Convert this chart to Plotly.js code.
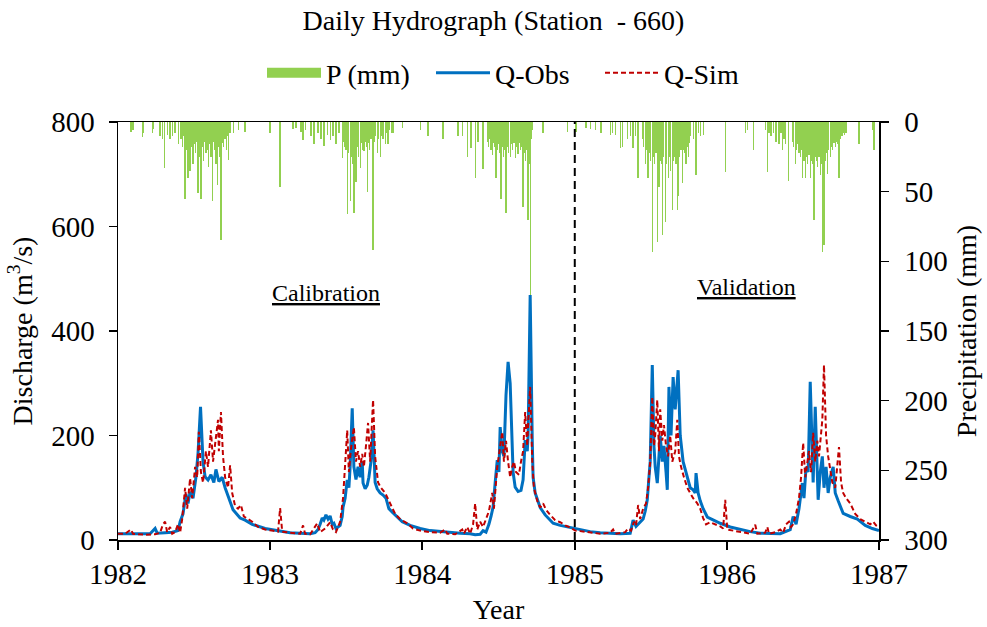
<!DOCTYPE html>
<html><head><meta charset="utf-8">
<script src="https://cdn.plot.ly/plotly-3.0.1.min.js"></script>
<style>body{margin:0;background:#fff}</style></head>
<body><div id="chart" style="width:987px;height:627px"></div>
<script>
// Day index counted from 1982-01-01
const qObsDay=[0,29,77,89,94,113,130,144,149,156,163,168,173,180,187,192,198,204,209,216,223,230,235,242,250,257,264,276,293,305,322,338,353,367,389,413,437,461,473,480,485,490,494,499,504,509,514,518,523,528,533,538,540,545,550,554,557,562,566,571,576,581,586,588,593,598,602,607,612,617,622,629,636,643,650,660,670,682,701,725,749,773,797,821,845,857,869,876,883,890,895,900,905,910,914,917,922,926,931,936,941,946,948,953,960,967,972,977,982,984,989,994,996,1001,1008,1013,1025,1037,1044,1061,1085,1109,1133,1157,1181,1205,1229,1236,1243,1253,1260,1265,1270,1274,1277,1282,1286,1289,1294,1298,1301,1306,1310,1315,1318,1322,1327,1332,1337,1344,1349,1356,1366,1373,1380,1385,1387,1392,1397,1404,1414,1428,1445,1469,1493,1517,1541,1565,1589,1613,1620,1627,1634,1642,1646,1651,1656,1661,1666,1668,1673,1678,1680,1685,1690,1694,1699,1704,1709,1716,1721,1728,1740,1757,1774,1793,1810,1826];
const qObs=[12,12,12,22,13,14,15,18,35,50,88,70,92,80,120,166,255,150,121,115,125,110,135,112,120,100,83,58,42,38,30,26,22,20,17,14,13,12,14,20,30,42,38,48,40,46,30,32,22,26,28,45,63,80,115,100,140,252,140,116,140,120,150,109,98,105,120,150,210,110,98,90,86,80,60,52,44,35,28,22,18,16,14,13,12,10,11,18,15,30,45,63,110,153,130,216,170,160,277,341,300,180,130,101,93,95,115,191,170,200,469,190,120,90,75,62,48,38,32,28,24,20,16,14,13,12,13,38,26,35,40,55,77,120,150,335,180,140,109,160,200,150,180,130,96,293,200,312,250,325,200,150,120,100,96,90,128,90,75,60,44,38,32,25,20,16,13,12,12,20,45,30,60,109,80,140,130,303,160,110,255,120,77,130,160,100,140,90,120,140,90,75,51,45,40,28,22,18];

const qSimDay=[0,17,31,36,65,89,101,108,113,118,125,130,137,144,149,154,161,166,173,178,185,190,194,199,204,211,216,223,228,233,240,242,247,252,257,264,269,274,281,288,295,302,312,322,336,353,370,384,389,394,413,437,444,449,461,478,485,497,509,516,523,533,540,545,550,554,559,566,571,576,581,586,590,595,600,605,612,617,624,631,641,653,665,677,694,708,725,749,773,785,790,809,826,830,838,845,852,857,862,869,876,883,890,898,902,910,917,922,926,931,936,941,946,950,955,962,967,972,977,982,984,989,994,998,1006,1013,1020,1027,1037,1049,1061,1073,1085,1097,1109,1133,1157,1181,1188,1193,1205,1217,1224,1231,1238,1243,1248,1253,1260,1267,1272,1277,1282,1286,1289,1294,1298,1301,1306,1310,1315,1320,1325,1330,1337,1342,1346,1351,1358,1366,1373,1380,1390,1397,1404,1411,1421,1433,1445,1452,1457,1462,1474,1493,1517,1529,1534,1553,1558,1562,1577,1589,1596,1603,1610,1615,1620,1627,1634,1639,1644,1649,1654,1658,1663,1668,1673,1678,1682,1690,1694,1699,1704,1709,1714,1721,1726,1730,1735,1740,1747,1757,1769,1781,1793,1805,1812,1819,1826];
const qSim=[12,12,20,12,10,11,14,30,35,15,25,12,15,30,14,40,100,60,118,80,140,120,207,130,110,170,140,210,150,180,230,170,245,160,120,100,143,90,65,60,67,45,40,35,25,20,18,16,61,16,14,12,28,12,11,32,15,22,34,20,15,35,80,150,210,130,175,216,150,170,140,165,140,180,224,150,268,160,110,100,90,70,50,40,32,22,18,15,14,20,12,11,20,12,25,12,30,70,20,35,25,40,55,90,60,140,180,207,150,190,150,120,140,150,130,125,150,170,245,180,220,293,150,100,75,62,70,58,48,38,34,28,24,18,17,15,12,14,20,12,13,15,22,18,35,28,67,40,60,70,100,150,274,180,200,268,170,250,190,220,180,160,200,150,170,230,160,140,120,100,90,80,70,60,42,30,34,30,26,22,77,20,18,15,12,29,12,14,25,12,15,20,14,30,35,25,30,50,80,120,186,120,150,170,130,205,150,190,160,230,335,200,160,130,110,100,140,178,110,90,80,70,50,40,35,30,35,28,25];

const precipDay=[31,36,58,62,82,86,101,106,112,118,125,130,137,146,
151,154,157,161,164,168,170,173,176,180,183,186,189,192,195,199,202,205,208,211,214,217,220,223,226,229,232,235,238,241,244,247,250,254,257,260,263,266,269,
278,290,305,365,389,420,427,442,449,
439,444,463,470,480,487,494,502,509,516,523,530,
538,541,544,547,550,553,557,560,563,566,569,571,574,577,581,584,587,590,593,596,598,601,604,607,610,612,615,618,622,625,629,632,636,641,644,648,652,656,660,
682,725,744,780,816,826,838,847,857,864,876,
886,889,892,895,898,901,904,907,910,913,916,919,922,925,928,931,934,937,941,944,947,950,953,956,960,963,966,969,972,975,978,981,984,987,989,992,995,
1020,1078,1099,1123,1133,1145,1159,1181,1186,1193,1205,1210,1222,1229,1236,1241,1248,
1258,1261,1265,1268,1272,1275,1278,1282,1285,1288,1291,1294,1298,1301,1304,1306,1309,1313,1316,1320,1323,1326,1330,1333,1336,1339,1342,1344,1348,1351,1354,1357,1360,1363,1366,1368,1371,1374,1380,1387,1392,1397,1404,1457,
1505,1510,1524,1553,1558,1562,1567,1572,1579,1584,1586,1591,1594,1598,1601,1608,
1618,1621,1625,1628,1631,1634,1637,1640,1642,1646,1649,1652,1655,1658,1661,1664,1667,1670,1673,1676,1678,1682,1685,1688,1690,1694,1697,1699,1702,1705,1709,1712,1715,1718,1721,1724,1727,1730,1733,1737,1740,1744,1747,1778,1810,1814];
const precip=[7,6,11,8,8,5,10,12,33,9,12,10,8,16,
12,18,10,55,20,40,15,35,18,30,16,22,14,51,25,55,18,28,14,22,20,32,16,25,57,14,20,30,45,18,25,85,15,18,12,20,10,27,8,
8,6,7,8,47,5,4,13,6,
7,13,10,16,8,12,17,9,13,10,16,8,
26,14,18,20,66,22,57,25,30,65,20,43,18,25,33,15,20,21,14,18,50,15,20,12,18,92,14,10,22,12,25,10,12,16,8,16,6,8,8,
4,6,10,12,10,10,25,19,40,14,34,
14,18,12,20,24,15,18,40,20,16,22,55,18,25,20,65,18,22,25,16,20,15,26,18,23,15,20,18,61,22,28,20,70,30,125,12,6,
8,7,7,4,5,6,8,9,8,9,19,18,12,10,19,10,40,
12,18,30,20,40,22,28,93,25,30,22,86,47,28,30,81,25,72,30,40,25,35,63,28,25,30,63,53,25,20,44,20,22,30,18,25,15,10,12,38,8,10,9,36,
8,6,20,6,36,8,10,8,14,10,16,8,20,12,16,42,
14,18,30,20,16,22,25,20,40,28,40,25,30,24,40,28,30,70,25,28,32,25,38,30,93,88,28,22,37,20,25,18,20,15,18,14,16,40,12,10,8,9,8,16,6,20];

const yearTicks=['1982','1983','1984','1985','1986','1987'];
const splitDay=1096; // 1985-01-01

function toDate(d){return new Date(Date.UTC(1982,0,1)+d*864e5).toISOString().slice(0,10);}

const FONT="'Liberation Serif', 'Times New Roman', serif";
const GREEN='#92D050';

const traces=[
 {type:'bar',name:'P (mm)',x:precipDay.map(toDate),y:precip,yaxis:'y',showlegend:false,
  width:3*864e5,marker:{color:GREEN,line:{width:0}}},
 // legend-only entry giving the wide green swatch of the reference legend
 {type:'scatter',mode:'lines',name:'P (mm)',x:[null],y:[null],yaxis:'y',
  line:{color:GREEN,width:14}},
 {type:'scatter',mode:'lines',name:'Q-Obs',x:qObsDay.map(toDate),y:qObs,yaxis:'y2',
  line:{color:'#0070C0',width:3}},
 {type:'scatter',mode:'lines',name:'Q-Sim',x:qSimDay.map(toDate),y:qSim,yaxis:'y2',
  line:{color:'#C00000',width:2,dash:'5px,3px'}}
];

const layout={
 width:987,height:627,
 margin:{l:118,r:108,t:122,b:87},
 paper_bgcolor:'#fff',plot_bgcolor:'rgba(0,0,0,0)',
 font:{family:FONT,size:28,color:'#000'},
 title:{text:'Daily Hydrograph (Station  - 660)',x:0.5,xanchor:'center',y:1-20/627,yanchor:'middle',yref:'container',font:{family:FONT,size:28,color:'#000'}},
 showlegend:true,
 legend:{orientation:'h',x:(262-118)/761,xanchor:'left',y:(540-73)/418,yanchor:'middle',font:{family:FONT,size:28},
  itemwidth:54,entrywidth:100,traceorder:'normal'},
 bargap:0,
 xaxis:{type:'date',range:[toDate(0),toDate(1826)],tickvals:yearTicks.map(y=>y+'-01-01'),ticktext:yearTicks,
  ticks:'outside',ticklen:8,tickwidth:1.5,tickcolor:'#000',showline:true,linecolor:'#000',linewidth:1.5,mirror:true,
  showgrid:false,zeroline:false,tickfont:{family:FONT,size:29},ticklabelstandoff:0,
  title:{text:'Year',font:{family:FONT,size:28},standoff:10}},
 yaxis:{range:[300,0],side:'right',dtick:50,tick0:0,ticks:'outside',ticklen:8,tickwidth:1.5,tickcolor:'#000',
  showline:true,linecolor:'#000',linewidth:1.5,showgrid:false,zeroline:false,tickfont:{family:FONT,size:29},ticklabelstandoff:10,
  title:{text:'Precipitation (mm)',font:{family:FONT,size:28},standoff:9}},
 yaxis2:{range:[0,800],overlaying:'y',side:'left',dtick:200,tick0:0,ticks:'outside',ticklen:8,tickwidth:1.5,tickcolor:'#000',
  showline:true,linecolor:'#000',linewidth:1.5,showgrid:false,zeroline:false,tickfont:{family:FONT,size:29},ticklabelstandoff:8,
  title:{text:'Discharge (m<sup>3</sup>/s)',font:{family:FONT,size:28},standoff:10}},
 shapes:[{type:'line',xref:'x',yref:'paper',x0:toDate(splitDay),x1:toDate(splitDay),y0:0,y1:1,
  line:{color:'#000',width:2,dash:'8px,5px'}}],
 annotations:[
  {text:'Calibration',xref:'paper',yref:'paper',x:(326-118)/761,y:(540-293)/418,xanchor:'center',yanchor:'middle',showarrow:false,
   font:{family:FONT,size:24,lineposition:'under'}},
  {text:'Validation',xref:'paper',yref:'paper',x:(746-118)/761,y:(540-287)/418,xanchor:'center',yanchor:'middle',showarrow:false,
   font:{family:FONT,size:24,lineposition:'under'}}
 ]
};
Plotly.newPlot('chart',traces,layout,{displayModeBar:false,staticPlot:true});
</script></body></html>
